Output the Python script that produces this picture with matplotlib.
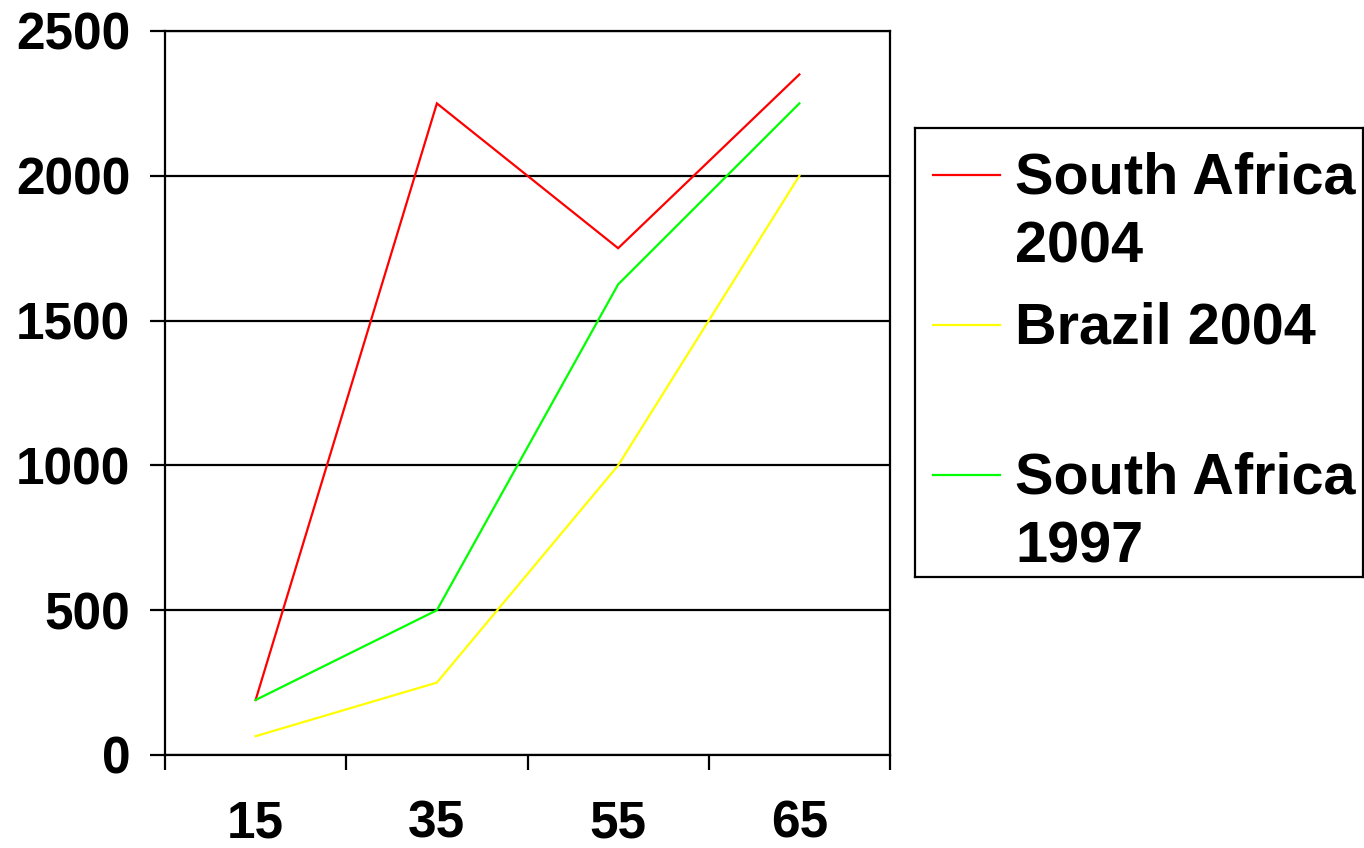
import numpy as np
import matplotlib.pyplot as plt
from matplotlib.ticker import FixedLocator, NullFormatter

plt.rcParams['font.family'] = ['Liberation Sans', 'DejaVu Sans']
plt.rcParams['font.weight'] = 'bold'

ages = ['15', '35', '55', '65']
sa_2004 = [190, 2250, 1750, 2350]
brazil_2004 = [65, 250, 1000, 2000]
sa_1997 = [190, 500, 1625, 2250]

series = [
    ('South Africa\n2004', sa_2004, '#ff0000'),
    ('Brazil 2004', brazil_2004, '#ffff00'),
    ('South Africa\n1997', sa_1997, '#00ff00'),
]

fig = plt.figure(figsize=(13.64, 8.48), dpi=100)
ax = fig.add_axes([165/1364, 93/848, 725/1364, 724/848])

x = np.arange(len(ages))
for label, vals, col in series:
    ax.plot(x, vals, color=col, lw=1.6, solid_joinstyle='miter')

ax.set_xlim(-0.5, len(ages) - 0.5)
ax.set_ylim(0, 2500)
ax.set_yticks(np.arange(0, 2501, 500))
ax.set_xticks(x)
ax.set_xticklabels(ages)
ax.xaxis.set_minor_locator(FixedLocator(np.arange(-0.5, len(ages), 1.0)))
ax.xaxis.set_minor_formatter(NullFormatter())
ax.tick_params(axis='x', which='major', length=0, pad=32, labelsize=37)
ax.tick_params(axis='x', which='minor', length=11, width=1.6, direction='out')
ax.tick_params(axis='y', length=11, width=1.6, direction='out', pad=14, labelsize=37)
ax.grid(axis='y', color='black', lw=1.6)
for s in ax.spines.values():
    s.set_linewidth(1.6)

# legend box drawn as its own small axes
lax = fig.add_axes([915/1364, 271/848, 448/1364, 449/848])
lax.set_xlim(0, 448)
lax.set_ylim(449, 0)
lax.set_xticks([])
lax.set_yticks([])
for s in lax.spines.values():
    s.set_linewidth(1.6)
for i, (label, vals, col) in enumerate(series):
    y0 = 47 + 150 * i
    lax.plot([18, 85], [y0, y0], color=col, lw=1.6)
    lax.text(100, y0 - 24, label, fontsize=41.5, va='top', ha='left', linespacing=1.38)

fig.savefig('out.png', dpi=100)
